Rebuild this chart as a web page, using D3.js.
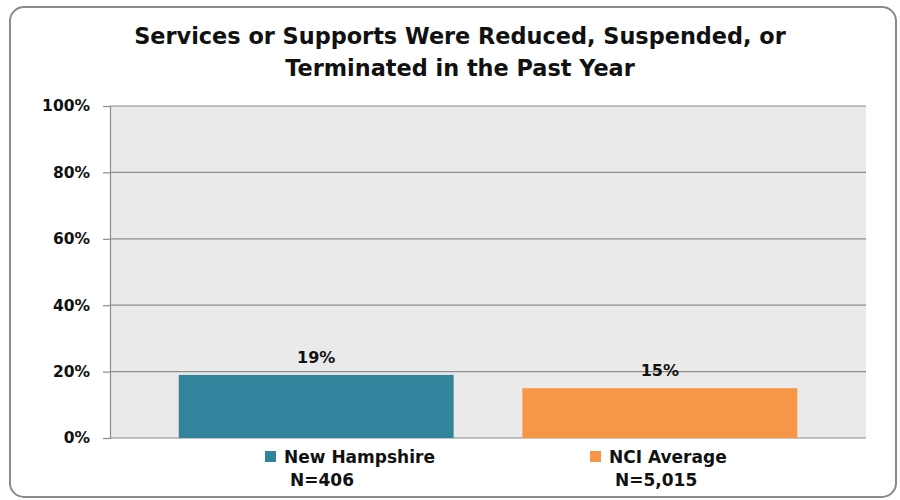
<!DOCTYPE html>
<html>
<head>
<meta charset="utf-8">
<script src="https://cdn.jsdelivr.net/npm/d3@7"></script>
<style>
  html, body { margin: 0; padding: 0; background: #ffffff; }
  svg { display: block; }
  text { font-family: "DejaVu Sans", "Open Sans", sans-serif; font-weight: bold; fill: #111; }
</style>
</head>
<body>
<svg id="chart" width="900" height="500"></svg>
<script>
// Chart data
const titleLines = ["Services or Supports Were Reduced, Suspended, or", "Terminated in the Past Year"];
const categories = ["New Hampshire", "NCI Average"];
const sampleSizes = ["N=406", "N=5,015"];
const values = [19, 15];
const colors = ["#31849b", "#f79646"];
const yTicks = [0, 20, 40, 60, 80, 100];

const svg = d3.select("#chart");

// Outer rounded frame
svg.append("rect")
  .attr("x", 10).attr("y", 7)
  .attr("width", 886).attr("height", 490)
  .attr("rx", 14)
  .attr("fill", "#fff")
  .attr("stroke", "#8a8a8a")
  .attr("stroke-width", 2);

const plot = { left: 110, right: 866, top: 106, bottom: 438 };

const x = d3.scaleBand()
  .domain(categories)
  .range([plot.left, plot.right])
  .padding(0.2);

const y = d3.scaleLinear()
  .domain([0, 100])
  .range([plot.bottom, plot.top]);

// Plot background
svg.append("rect")
  .attr("x", plot.left).attr("y", plot.top)
  .attr("width", plot.right - plot.left)
  .attr("height", plot.bottom - plot.top)
  .attr("fill", "#eaeaea");

// Gridlines
svg.append("g")
  .selectAll("line")
  .data(yTicks)
  .join("line")
  .attr("x1", plot.left).attr("x2", plot.right)
  .attr("y1", d => y(d)).attr("y2", d => y(d))
  .attr("stroke", "#8c8c8c")
  .attr("stroke-width", 1.2);

// Y axis
const yAxis = svg.append("g")
  .attr("transform", `translate(${plot.left},0)`)
  .call(d3.axisLeft(y).tickValues(yTicks).tickFormat(d => d + "%").tickSize(7).tickPadding(13));
yAxis.select(".domain").attr("stroke", "#8c8c8c").attr("stroke-width", 1.2);
yAxis.selectAll(".tick line").attr("stroke", "#8c8c8c").attr("stroke-width", 1.2);
yAxis.selectAll(".tick text")
  .style("font-family", "'DejaVu Sans', 'Open Sans', sans-serif")
  .style("font-weight", "bold")
  .style("font-size", "15.5px")
  .attr("fill", "#111");

// Bars
svg.append("g")
  .selectAll("rect")
  .data(values)
  .join("rect")
  .attr("x", (d, i) => x(categories[i]))
  .attr("y", d => y(d))
  .attr("width", x.bandwidth())
  .attr("height", d => y(0) - y(d))
  .attr("fill", (d, i) => colors[i]);

// Value labels
svg.append("g")
  .selectAll("text")
  .data(values)
  .join("text")
  .attr("x", (d, i) => x(categories[i]) + x.bandwidth() / 2)
  .attr("y", d => y(d) - 12)
  .attr("text-anchor", "middle")
  .style("font-size", "16px")
  .text(d => d + "%");

// Title
svg.append("g")
  .selectAll("text")
  .data(titleLines)
  .join("text")
  .attr("x", 460)
  .attr("y", (d, i) => 44 + i * 32)
  .attr("text-anchor", "middle")
  .style("font-size", "22.4px")
  .text(d => d);

// Legend
const legendX = [265, 590];
const legend = svg.append("g")
  .selectAll("g")
  .data(categories)
  .join("g")
  .attr("transform", (d, i) => `translate(${legendX[i]},0)`);
legend.append("rect")
  .attr("x", 0).attr("y", 451)
  .attr("width", 11).attr("height", 11)
  .attr("fill", (d, i) => colors[i]);
legend.append("text")
  .attr("x", 19).attr("y", 463)
  .style("font-size", "17px")
  .text(d => d);
legend.append("text")
  .attr("x", 25).attr("y", 486)
  .style("font-size", "17px")
  .text((d, i) => sampleSizes[i]);
</script>
</body>
</html>
